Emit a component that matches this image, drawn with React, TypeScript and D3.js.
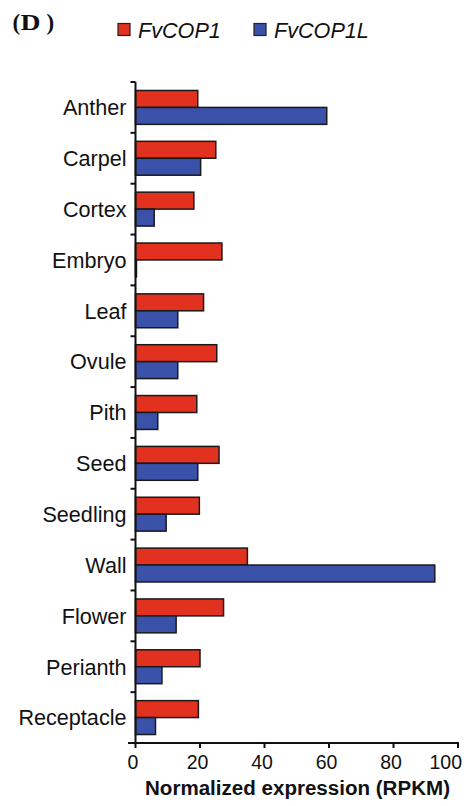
import React, { useEffect, useRef } from "react";
import * as d3 from "d3";

const tissues = [
  "Anther", "Carpel", "Cortex", "Embryo", "Leaf", "Ovule", "Pith",
  "Seed", "Seedling", "Wall", "Flower", "Perianth", "Receptacle",
];
const seriesNames = ["FvCOP1", "FvCOP1L"];
const cop1 = [19.3, 24.9, 18.1, 26.8, 21.1, 25.2, 19.0, 25.9, 19.8, 34.7, 27.3, 20.0, 19.5];
const cop1l = [59.3, 20.2, 5.8, 0.3, 13.1, 13.1, 6.9, 19.3, 9.5, 92.8, 12.6, 8.2, 6.2];
const xTicks = [0, 20, 40, 60, 80, 100];
const colors = ["#E2311F", "#3951A9"];

const W = 469;
const H = 806;
const margin = { left: 135.5, right: 11, top: 82, bottom: 63 };

export default function App() {
  const ref = useRef<SVGSVGElement>(null);

  useEffect(() => {
    const svg = d3.select(ref.current);
    svg.selectAll("*").remove();

    const x = d3.scaleLinear().domain([0, 100]).range([margin.left, W - margin.right]);
    const y = d3.scaleBand<string>().domain(tissues).range([margin.top, H - margin.bottom]).padding(0);
    const ySub = d3.scaleBand<string>().domain(seriesNames).range([0, y.bandwidth()]).paddingInner(0).paddingOuter(0.5);

    const font = "Liberation Sans, Arial, Helvetica, sans-serif";
    const serif = "Liberation Serif, Times New Roman, serif";

    // panel letter
    const panel = svg.append("g")
      .attr("font-family", serif).attr("font-weight", "bold").attr("font-size", 23).attr("fill", "#111");
    panel.append("text").attr("x", 12.5).attr("y", 29.5).text("(");
    panel.append("text").attr("x", 20.5).attr("y", 29.5)
      .attr("textLength", 20).attr("lengthAdjust", "spacingAndGlyphs").text("D");
    panel.append("text").attr("x", 46.5).attr("y", 29.5).text(")");

    // legend
    const legendX = [118, 254];
    seriesNames.forEach((s, i) => {
      svg.append("rect")
        .attr("x", legendX[i]).attr("y", 23.5).attr("width", 12).attr("height", 12)
        .attr("fill", colors[i]).attr("stroke", "#222").attr("stroke-width", 1.2);
      svg.append("text")
        .attr("x", legendX[i] + 20).attr("y", 38)
        .attr("font-family", font).attr("font-style", "italic").attr("font-size", 21.6)
        .attr("fill", "#111")
        .text(s);
    });

    // bars
    const values = [cop1, cop1l];
    const g = svg.append("g");
    tissues.forEach((t, i) => {
      seriesNames.forEach((s, k) => {
        const v = values[k][i];
        g.append("rect")
          .attr("x", x(0))
          .attr("y", (y(t) as number) + (ySub(s) as number))
          .attr("width", x(v) - x(0))
          .attr("height", ySub.bandwidth())
          .attr("fill", colors[k])
          .attr("stroke", "#1a1a1a")
          .attr("stroke-width", 1.5);
      });
    });

    // y axis
    const yBottom = H - margin.bottom;
    svg.append("line")
      .attr("x1", x(0)).attr("x2", x(0))
      .attr("y1", margin.top).attr("y2", yBottom + 1)
      .attr("stroke", "#111").attr("stroke-width", 2);
    tissues.forEach((t) => {
      const b = y(t) as number;
      svg.append("line")
        .attr("x1", x(0) - 5).attr("x2", x(0))
        .attr("y1", b).attr("y2", b)
        .attr("stroke", "#111").attr("stroke-width", 2);
    });
    tissues.forEach((t) => {
      svg.append("text")
        .attr("x", 126.5)
        .attr("y", (y(t) as number) + y.bandwidth() / 2)
        .attr("dy", "0.36em")
        .attr("text-anchor", "end")
        .attr("font-family", font).attr("font-size", 21.6)
        .attr("fill", "#111")
        .text(t);
    });

    // x axis
    svg.append("line")
      .attr("x1", x(0) - 7.5).attr("x2", x(100) + 1)
      .attr("y1", yBottom).attr("y2", yBottom)
      .attr("stroke", "#111").attr("stroke-width", 2);
    xTicks.forEach((tv, i) => {
      svg.append("line")
        .attr("x1", x(tv)).attr("x2", x(tv))
        .attr("y1", yBottom).attr("y2", yBottom + 5)
        .attr("stroke", "#111").attr("stroke-width", 2);
      const last = i === xTicks.length - 1;
      svg.append("text")
        .attr("x", last ? W - 7 : x(tv) - 2.5)
        .attr("y", 768.5)
        .attr("text-anchor", last ? "end" : "middle")
        .attr("font-family", font).attr("font-size", 19.5)
        .attr("fill", "#111")
        .text(tv);
    });
    svg.append("text")
      .attr("x", 145).attr("y", 795)
      .attr("textLength", 305).attr("lengthAdjust", "spacingAndGlyphs")
      .attr("font-family", font).attr("font-weight", "bold").attr("font-size", 19.5)
      .attr("fill", "#111")
      .text("Normalized expression (RPKM)");
  }, []);

  return (
    <svg
      ref={ref}
      width={W}
      height={H}
      style={{ position: "absolute", left: 0, top: 0, display: "block", background: "#fff" }}
    />
  );
}
